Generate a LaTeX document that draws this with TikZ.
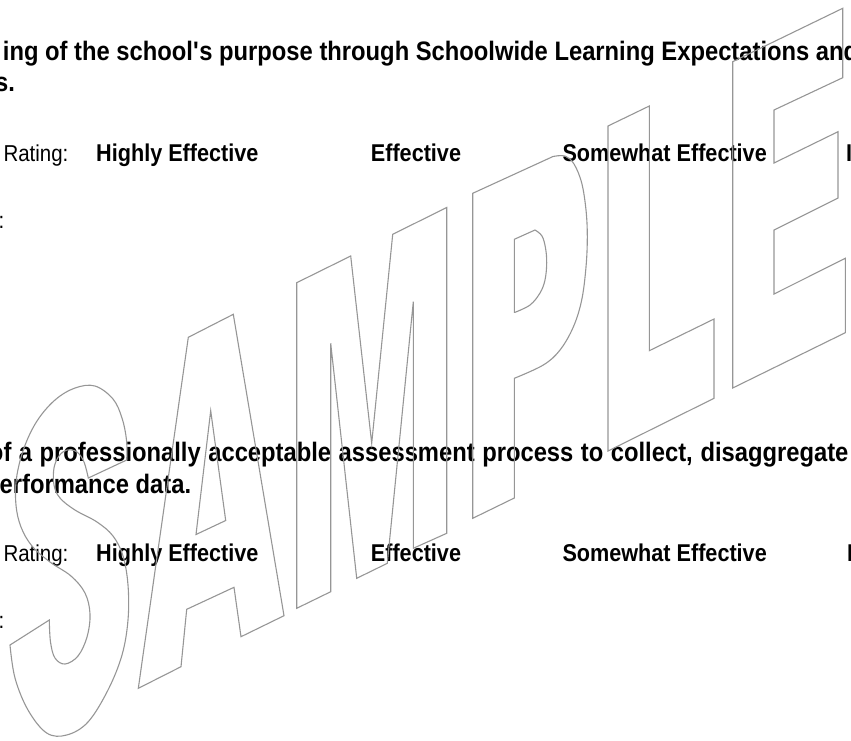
\documentclass[tikz,border=0pt]{standalone}
\usepackage{fontspec}
\setmainfont{Liberation Sans}[FakeStretch=0.89]
\definecolor{sampgray}{RGB}{150,150,150}
\begin{document}
\begin{tikzpicture}[x=1pt,y=-1pt,
  para/.style={anchor=base west, inner sep=0pt, font=\fontsize{26.7}{30}\selectfont\bfseries},
  rate/.style={anchor=base west, inner sep=0pt, font=\fontsize{24.3}{28}\selectfont\bfseries},
  ratelbl/.style={anchor=base west, inner sep=0pt, font=\fontsize{23}{27}\selectfont},
  outl/.style={draw=sampgray, line width=1.1pt, line join=miter},
  sm/.style={smooth, tension=0.6}]
\useasboundingbox (0,0) rectangle (851,740);
\clip (0,0) rectangle (851,740);
% ---- block 1 ----
\node[para] (p1) at (2.7,60) {ing of the school\textquotesingle s purpose through Schoolwide Learning Expectations and};
\node[para] (p2) at (-5,91.7) {s.};
\node[ratelbl] (r1) at (3.3,161.7) {Rating:};
\node[rate] (r1h) at (96,161.7) {Highly Effective};
\node[rate] (r1e) at (370.7,161.7) {Effective};
\node[rate] (r1s) at (562.3,161.7) {Somewhat Effective};
\node[rate] (r1i) at (846,161.7) {I};
\node[ratelbl] (c1) at (-1.5,228.3) {:};
% ---- block 2 ----
\node[para] (p3) at (-11.2,461.7) {\makebox[859.5pt][s]{of a professionally acceptable assessment process to collect, disaggregate}};
\node[para] (p4) at (-0.5,493.3) {erformance data.};
\node[ratelbl] (r2) at (3.3,561.7) {Rating:};
\node[rate] (r2h) at (96,561.7) {Highly Effective};
\node[rate] (r2e) at (370.7,561.7) {Effective};
\node[rate] (r2s) at (562.3,561.7) {Somewhat Effective};
\node[rate] (r2i) at (847,561.7) {I};
\node[ratelbl] (c2) at (-1.5,628.3) {:};
% ---- SAMPLE outline ----
% S
\draw[outl] plot[sm] coordinates {(126.7,460) (126.5,440) (122,418) (113,399) (95,386) (75,388) (55,400) (37,421) (24,448) (16.5,478) (16,505) (21,527) (32,546) (50,562) (71,576) (85,593) (90,614) (87,637) (78,656) (65,664) (55,658) (50.5,642) (49.3,620)}
  -- plot[sm] coordinates {(10,645) (15,678) (28,710) (46.7,733) (66.7,735) (88,722) (108,690) (122,655) (128,620) (128,585) (123,556) (113,536) (97,522) (75,510) (60,498) (54,485) (54,468) (59,456) (67,450) (77,452) (84,462) (88.3,478)}
  -- cycle;
% A
\draw[outl] (138.3,688.3) -- (188.3,337.3) -- (233.3,314.3) -- (284,615.7) -- (241,636.7) -- (234,587.3) -- (186.7,609.3) -- (181,666.7) -- cycle;
\draw[outl] (210.7,410.7) -- (225.7,520.5) -- (196,534.5) -- cycle;
% M
\draw[outl] (296.7,608.3) -- (296.7,282.7) -- (350.7,256) -- (371.7,443.3) -- (392.7,234.3) -- (446.7,207.5) -- (446.7,533.3) -- (413.3,548.3) -- (413.3,301.7) -- (387.3,563.3) -- (356.7,578.3) -- (330.7,343.3) -- (330.7,591.7) -- cycle;
% P
\draw[outl] (472.7,518.3) -- (472.7,193.3) -- plot[sm] coordinates {(553,156.5) (565,156) (574,164) (581.7,183) (586,210) (587.3,237) (586,267) (581.7,300) (573.3,327) (560,350) (543.3,365) (514.3,378.3)} -- (514.3,498) -- cycle;
\draw[outl] (514.3,312.3) -- (514.3,239.3) -- plot[sm] coordinates {(535,230) (542,236) (545.5,248) (546.7,263) (545,280) (540,293) (530,305) (515,312.3)} -- cycle;
% L
\draw[outl] (608,451) -- (608,126) -- (649.3,106) -- (649.3,350.7) -- (714,319) -- (714,398.3) -- cycle;
% E
\draw[outl] (732.7,388) -- (732.7,61.7) -- (842.7,8.3) -- (842.7,77.7) -- (774,110) -- (774,163) -- (838,131.7) -- (838,198) -- (774,230) -- (774,294) -- (845.3,258.3) -- (845.3,332.7) -- cycle;
\end{tikzpicture}
\end{document}
